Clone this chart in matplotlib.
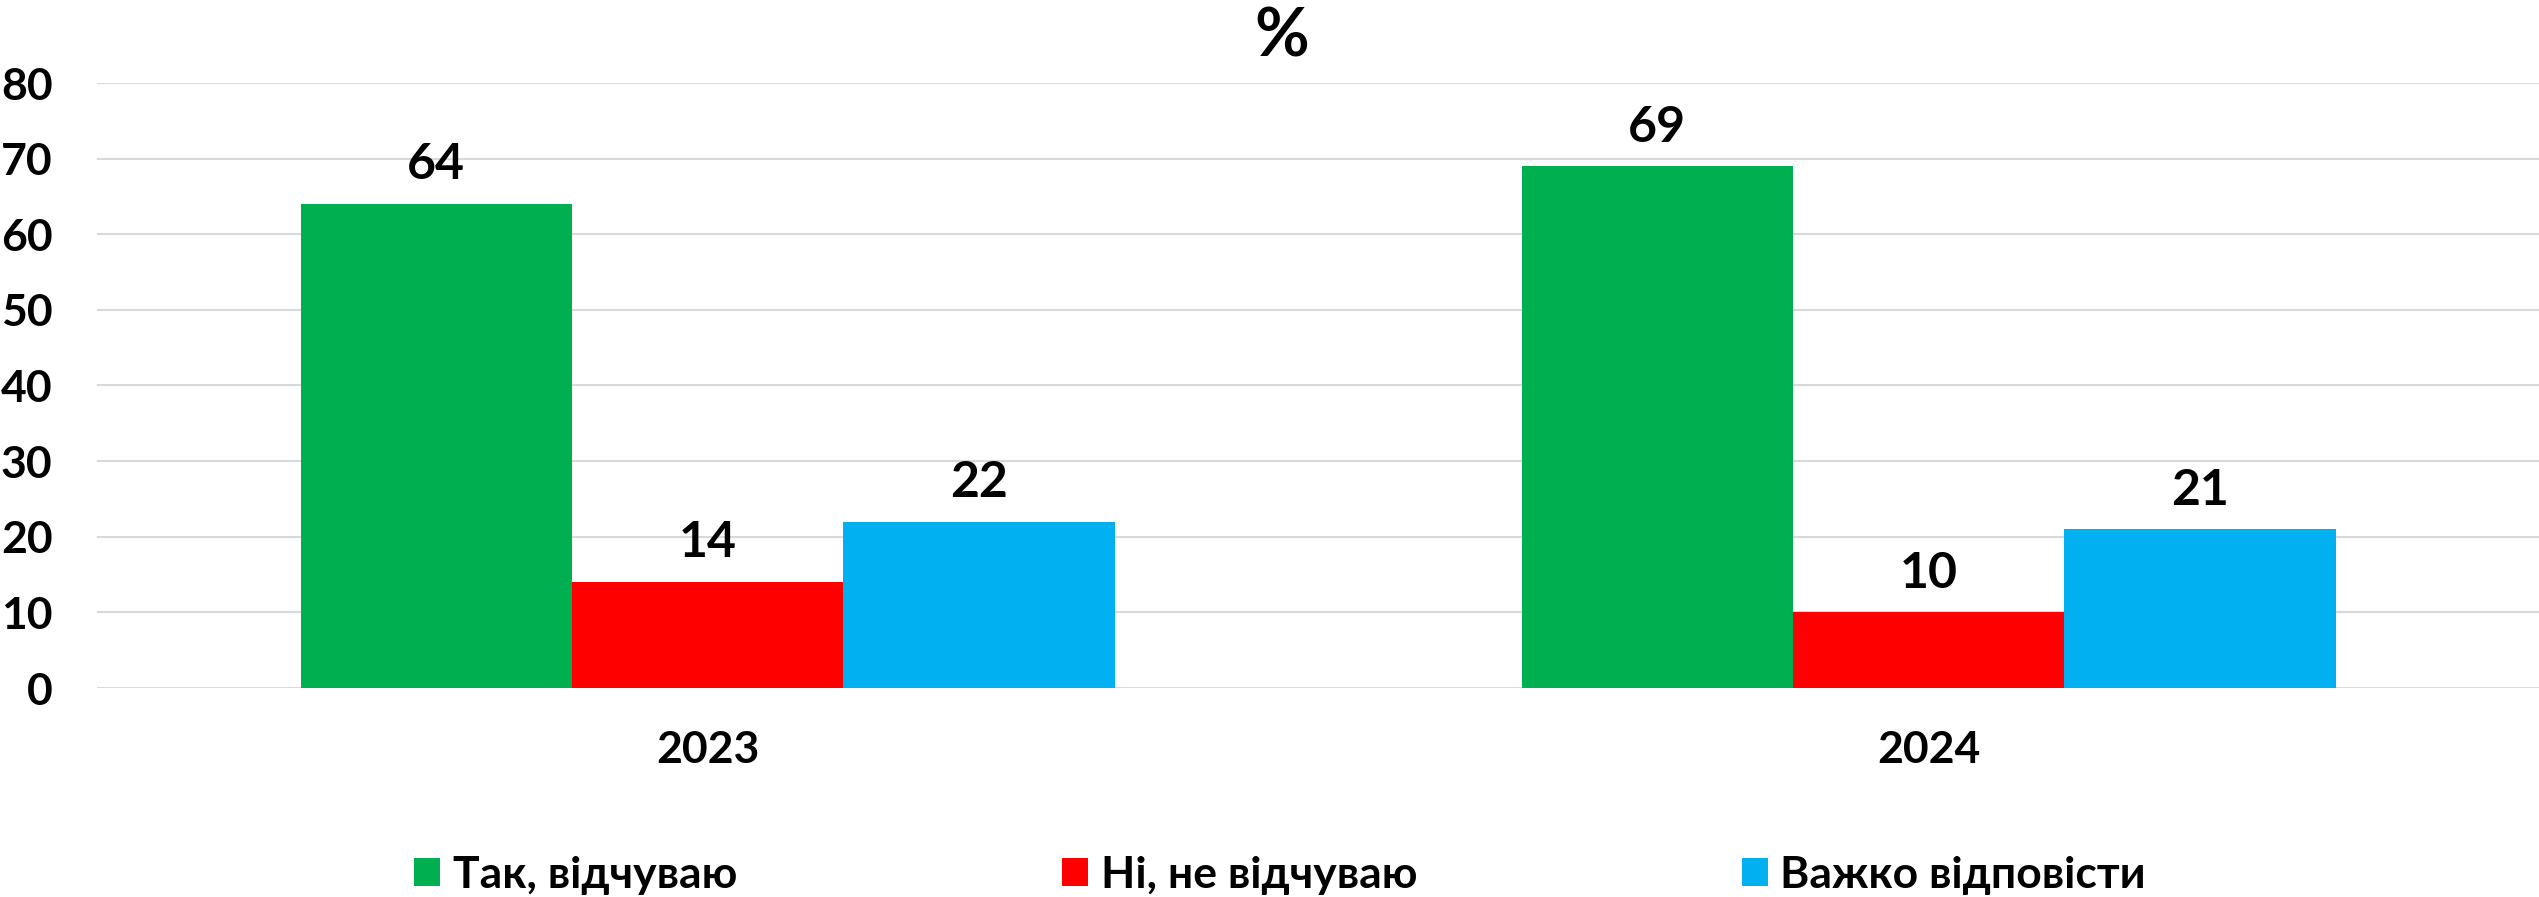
import matplotlib
matplotlib.use('Agg')
import matplotlib.pyplot as plt
from matplotlib.patches import Patch
import numpy as np


years = ['2023', '2024']
series_names = ['Так, відчуваю', 'Ні, не відчуваю', 'Важко відповісти']
yes_values = [64, 69]
no_values = [14, 10]
hard_values = [22, 21]
y_ticks = [0, 10, 20, 30, 40, 50, 60, 70, 80]

colors = ['#00B050', '#FF0000', '#00B0F0']
grid_color = '#D9D9D9'

plt.rcParams['font.family'] = ['Lato', 'DejaVu Sans']
plt.rcParams['font.weight'] = 'bold'

#1. Figure and axes placement (pixels of a 2539x897 picture)
fig = plt.figure(figsize = (25.39, 8.97), dpi = 100)
ax = fig.add_axes([97 / 2539, 1 - 688 / 897, 1 - 97 / 2539, (688 - 83) / 897])

#2. Bars
bar_width = 1 / 4.5
x = np.arange(len(years))
all_values = [yes_values, no_values, hard_values]
for i in range(len(all_values)):
    bars = ax.bar(x + (i - 1) * bar_width, all_values[i], width = bar_width, color = colors[i], zorder = 3)
    ax.bar_label(bars, labels = [str(v) for v in all_values[i]], padding = 12, fontsize = 36, fontweight = 'bold')

#3. Axes styling
ax.set_xlim(-0.5, len(years) - 0.5)
ax.set_ylim(0, 80)
ax.set_yticks(y_ticks)
ax.set_yticklabels([str(t) for t in y_ticks], fontsize = 32, fontweight = 'bold')
ax.set_xticks(x)
ax.set_xticklabels(years, fontsize = 32, fontweight = 'bold')
ax.tick_params(axis = 'both', length = 0)
ax.tick_params(axis = 'y', pad = 32)
ax.tick_params(axis = 'x', pad = 30)
ax.grid(axis = 'y', color = grid_color, linewidth = 1.5, zorder = 0)
ax.set_axisbelow(True)
for side in ['top', 'bottom', 'right', 'left']:
    ax.spines[side].set_visible(False)

#4. Title and legend
fig.text(1282 / 2539, 1 - 37.5 / 897, '%', fontsize = 48, fontweight = 'bold', ha = 'center', va = 'center')

handles = [Patch(facecolor = colors[i], label = series_names[i]) for i in range(len(series_names))]
fig.legend(handles = handles, loc = 'center', bbox_to_anchor = (1280 / 2539, 1 - 874.5 / 897), ncol = 3,
           frameon = False, fontsize = 32, handlelength = 0.585, handleheight = 0.585, handletextpad = 0.29,
           columnspacing = 7.3, borderpad = 0)

fig.savefig('out.png', dpi = 100)
